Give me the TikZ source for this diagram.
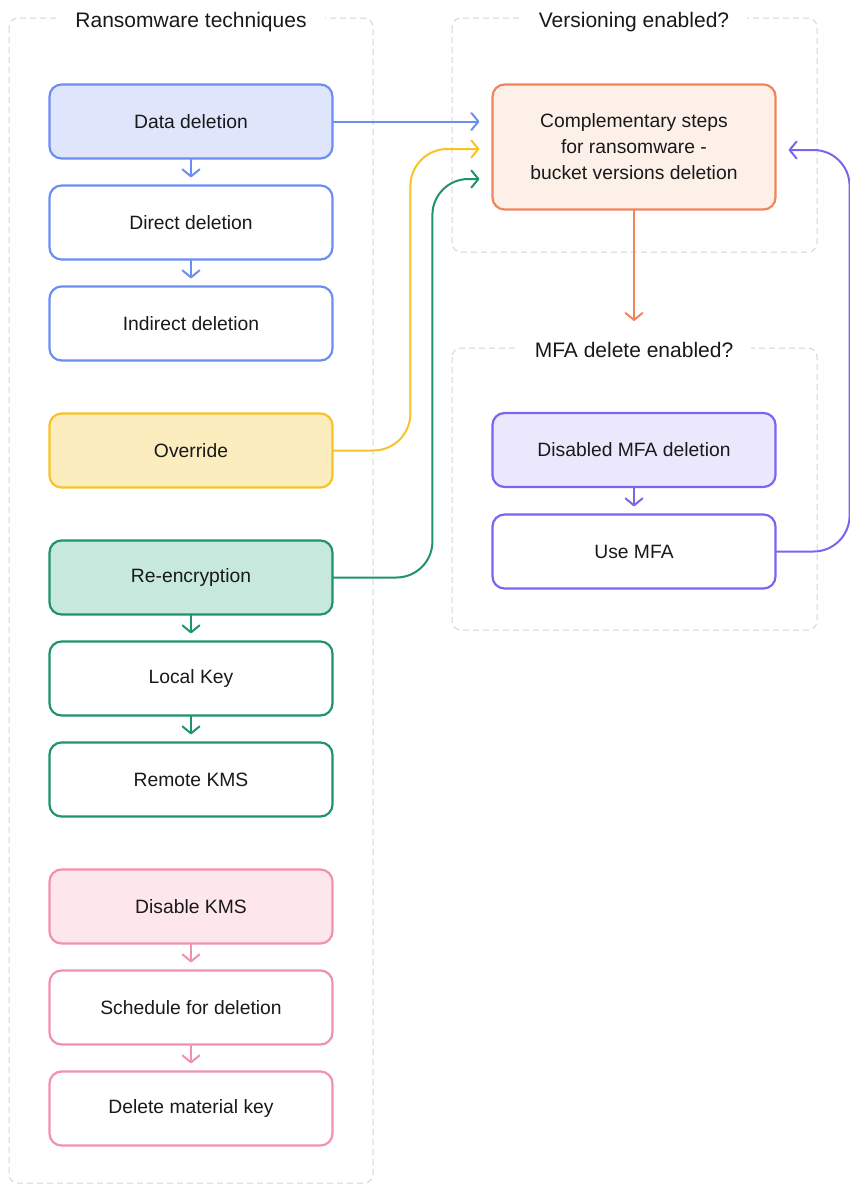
\documentclass[tikz,border=0pt]{standalone}
\usepackage{fontspec}
\setmainfont{Liberation Sans}
\usetikzlibrary{arrows.meta,calc}
\definecolor{bluS}{HTML}{6B8EF5}
\definecolor{bluF}{HTML}{DFE6FC}
\definecolor{yelS}{HTML}{F7C325}
\definecolor{yelF}{HTML}{FCEDBF}
\definecolor{grnS}{HTML}{1E9467}
\definecolor{grnF}{HTML}{C7E8DD}
\definecolor{pnkS}{HTML}{F291AC}
\definecolor{pnkF}{HTML}{FDE7EC}
\definecolor{orS}{HTML}{F2845C}
\definecolor{orF}{HTML}{FDF0E9}
\definecolor{purS}{HTML}{7C63F0}
\definecolor{purF}{HTML}{EBE8FD}
\definecolor{grpC}{HTML}{D4D4D4}
\begin{document}
\begin{tikzpicture}[x=1pt,y=-1pt,
  box/.style={draw, rounded corners=12pt, line width=2.2pt, minimum width=283pt, minimum height=74pt, inner sep=0pt, font=\fontsize{19.3}{26}\selectfont, align=center, text=black!90},
  grp/.style={draw=grpC, dash pattern=on 6pt off 4pt, line width=1pt, rounded corners=9pt},
  ttl/.style={fill=white, inner xsep=18pt, inner ysep=2pt, font=\fontsize{21}{24}\selectfont, anchor=base, text=black!90},
  arr/.style={line width=2pt, -{Straight Barb[length=7pt,width=17pt,line width=2pt,round]}, line cap=round}]
\useasboundingbox (0,0) rectangle (849,1186);
% containers
\draw[grp] (9,18) rectangle (373,1183);
\draw[grp] (452,18) rectangle (817,252);
\draw[grp] (452,348) rectangle (817,630);
\node[ttl] (t1) at (191,27) {Ransomware techniques};
\node[ttl] (t2) at (634,27) {Versioning enabled?};
\node[ttl] (t3) at (634,357) {MFA delete enabled?};
% left nodes
\node[box, draw=bluS, fill=bluF] (dd) at (191,121.5) {Data deletion};
\node[box, draw=bluS, fill=white] (dir) at (191,222.5) {Direct deletion};
\node[box, draw=bluS, fill=white] (ind) at (191,323.5) {Indirect deletion};
\node[box, draw=yelS, fill=yelF] (ovr) at (191,450.5) {Override};
\node[box, draw=grnS, fill=grnF] (renc) at (191,577.5) {Re-encryption};
\node[box, draw=grnS, fill=white] (lk) at (191,678.5) {Local Key};
\node[box, draw=grnS, fill=white] (rk) at (191,779.5) {Remote KMS};
\node[box, draw=pnkS, fill=pnkF] (dk) at (191,906.5) {Disable KMS};
\node[box, draw=pnkS, fill=white] (sd) at (191,1007.5) {Schedule for deletion};
\node[box, draw=pnkS, fill=white] (dm) at (191,1108.5) {Delete material key};
% right nodes
\node[box, draw=orS, fill=orF, minimum height=125pt] (comp) at (634,147) {Complementary steps\\for ransomware -\\bucket versions deletion};
\node[box, draw=purS, fill=purF] (dis) at (634,450) {Disabled MFA deletion};
\node[box, draw=purS, fill=white] (use) at (634,551.5) {Use MFA};
\coordinate (oend) at (634,321);
% small arrows
\draw[arr, bluS, shorten >=7pt] (dd.south) -- (dir.north);
\draw[arr, bluS, shorten >=7pt] (dir.south) -- (ind.north);
\draw[arr, grnS, shorten >=7pt] (renc.south) -- (lk.north);
\draw[arr, grnS, shorten >=7pt] (lk.south) -- (rk.north);
\draw[arr, pnkS, shorten >=7pt] (dk.south) -- (sd.north);
\draw[arr, pnkS, shorten >=7pt] (sd.south) -- (dm.north);
\draw[arr, purS, shorten >=7pt] (dis.south) -- (use.north);
% long connectors
\draw[arr, bluS, shorten >=12pt] (dd.east) -- (dd.east -| comp.west);
\draw[arr, yelS, shorten >=12pt, rounded corners=37pt] (ovr.east) -| ($(comp.west)+(-81,2)$) -- ($(comp.west)+(0,2)$);
\draw[arr, grnS, shorten >=12pt, rounded corners=36pt] (renc.east) -| ($(comp.west)+(-59,32)$) -- ($(comp.west)+(0,32)$);
\draw[arr, orS] (comp.south) -- (oend);
\draw[arr, purS, shorten >=12pt, rounded corners=36pt] (use.east) -| ($(comp.east)+(73,3)$) -- ($(comp.east)+(0,3)$);
\end{tikzpicture}
\end{document}
